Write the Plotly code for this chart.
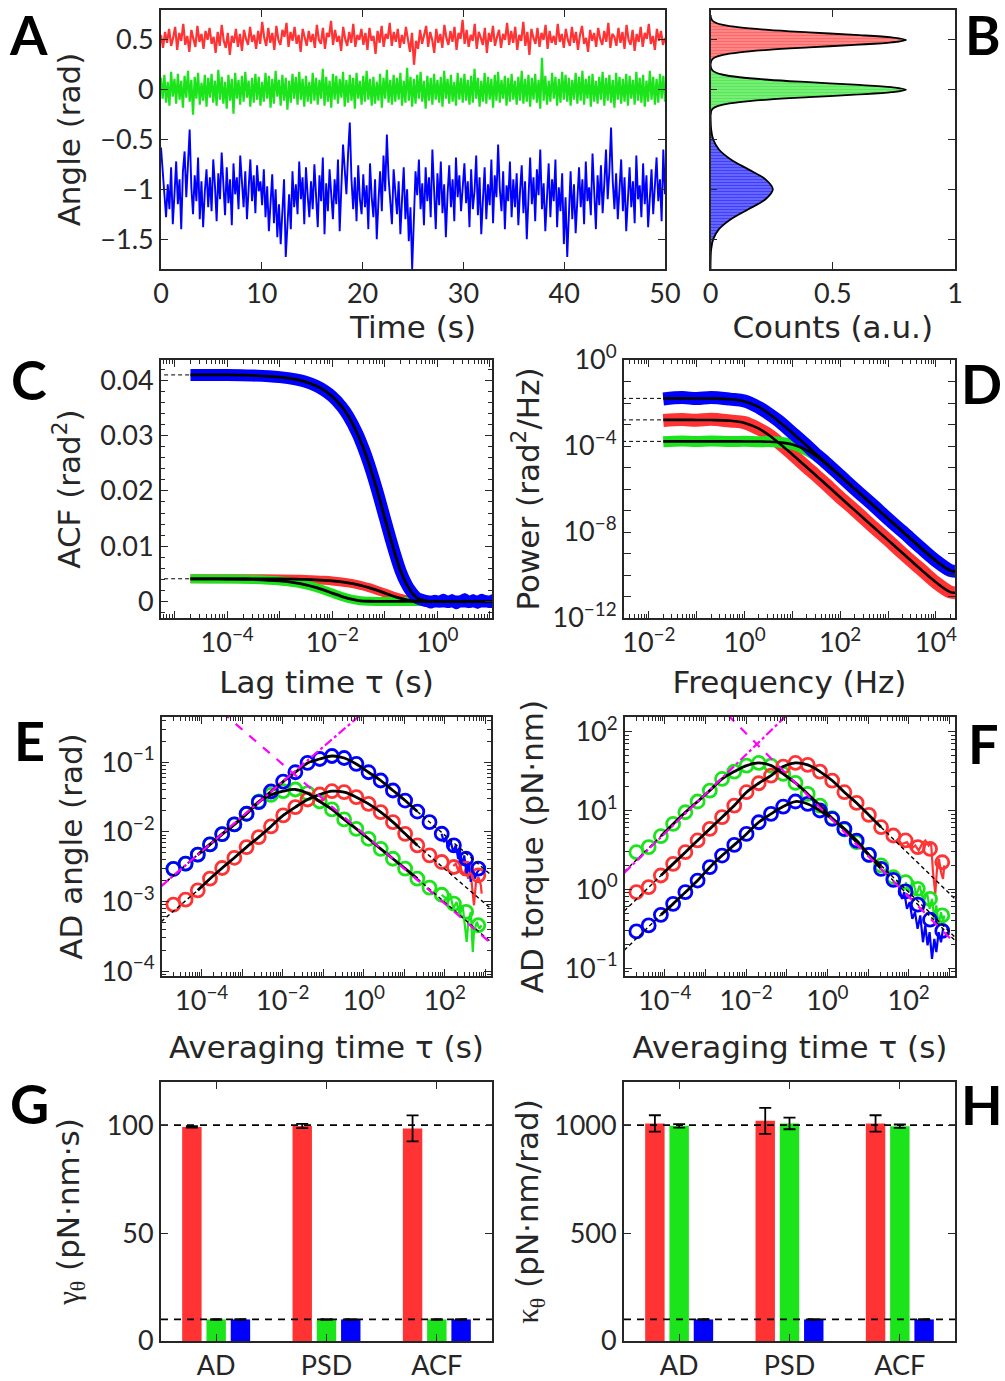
import plotly.graph_objects as go

RED = '#FF3333'
GREEN = '#1BE41B'
BLUE = '#0000FF'
MAG = '#FF00FF'
AXC = '#262626'
TICK_FONT = dict(family='Lato', size=27, color=AXC)
TITLE_FONT = dict(family='DejaVu Sans', size=31, color=AXC)
W, H = 1005, 1381

# ---------------- A: angle traces (rad), sampled evenly over 0-50 s
red_angle = [
    0.55, 0.42, 0.58, 0.47, 0.61, 0.44, 0.52, 0.63, 0.40, 0.57, 0.49, 0.66, 0.45, 0.54, 0.38, 0.60, 0.51, 0.43, 0.64, 0.48, 0.56, 0.41, 0.59, 0.50, 0.62,
    0.46, 0.53, 0.37, 0.58, 0.44, 0.65, 0.49, 0.42, 0.57, 0.35, 0.54, 0.47, 0.61, 0.43, 0.56, 0.39, 0.60, 0.51, 0.45, 0.63, 0.48, 0.55, 0.41, 0.59, 0.46,
    0.68, 0.52, 0.44, 0.62, 0.47, 0.57, 0.40, 0.64, 0.50, 0.45, 0.60, 0.53, 0.67, 0.43, 0.58, 0.49, 0.63, 0.46, 0.55, 0.38, 0.61, 0.52, 0.44, 0.59, 0.48,
    0.56, 0.42, 0.65, 0.50, 0.46, 0.62, 0.41, 0.57, 0.53, 0.69, 0.45, 0.60, 0.48, 0.54, 0.39, 0.63, 0.51, 0.44, 0.58, 0.47, 0.66, 0.43, 0.55, 0.50, 0.61,
    0.45, 0.57, 0.40, 0.62, 0.49, 0.54, 0.36, 0.59, 0.47, 0.64, 0.43, 0.56, 0.51, 0.67, 0.44, 0.58, 0.48, 0.61, 0.42, 0.55, 0.46, 0.63, 0.50, 0.38, 0.57,
    0.25, 0.49, 0.41, 0.60, 0.46, 0.55, 0.64, 0.43, 0.58, 0.50, 0.37, 0.61, 0.47, 0.56, 0.42, 0.65, 0.52, 0.45, 0.59, 0.48, 0.63, 0.40, 0.57, 0.51, 0.70,
    0.46, 0.60, 0.43, 0.55, 0.49, 0.66, 0.41, 0.58, 0.52, 0.45, 0.62, 0.37, 0.57, 0.48, 0.64, 0.44, 0.53, 0.60, 0.42, 0.56, 0.50, 0.67, 0.45, 0.59, 0.47,
    0.63, 0.40, 0.55, 0.49, 0.68, 0.44, 0.58, 0.35, 0.61, 0.52, 0.46, 0.62, 0.43, 0.57, 0.50, 0.65, 0.41, 0.59, 0.47, 0.54, 0.45, 0.66, 0.48, 0.56, 0.42,
    0.61, 0.50, 0.44, 0.63, 0.47, 0.58, 0.40, 0.55, 0.64, 0.46, 0.52, 0.38, 0.60, 0.49, 0.57, 0.43, 0.62, 0.51, 0.45, 0.59, 0.48, 0.67, 0.42, 0.56, 0.53,
    0.44, 0.62, 0.47, 0.58, 0.41, 0.65, 0.50, 0.45, 0.60, 0.39, 0.56, 0.48, 0.63, 0.43, 0.57, 0.51, 0.66, 0.46, 0.54, 0.40, 0.61, 0.49, 0.59, 0.45, 0.52,
]
green_angle = [
    0.12, -0.09, 0.15, -0.13, 0.08, -0.16, 0.18, -0.07, 0.11, -0.14, 0.16, -0.10, 0.09, -0.18, 0.14, -0.08, 0.19, -0.12, 0.10, -0.25, 0.13, -0.09, 0.17, -0.15, 0.07, -0.11, 0.15, -0.17, 0.12, -0.08,
    0.16, -0.13, 0.09, -0.16, 0.20, -0.10, 0.13, -0.14, 0.08, -0.19, 0.15, -0.11, 0.11, -0.24, 0.17, -0.09, 0.10, -0.15, 0.14, -0.12, 0.18, -0.08, 0.09, -0.17, 0.12, -0.13, 0.16, -0.10, 0.13, -0.16,
    0.08, -0.12, 0.17, -0.09, 0.14, -0.18, 0.11, -0.14, 0.19, -0.07, 0.10, -0.16, 0.15, -0.11, 0.12, -0.20, 0.09, -0.13, 0.16, -0.09, 0.13, -0.15, 0.18, -0.10, 0.11, -0.17, 0.14, -0.12, 0.08, -0.14,
    0.17, -0.11, 0.12, -0.15, 0.10, -0.09, 0.21, -0.16, 0.13, -0.12, 0.09, -0.18, 0.16, -0.10, 0.14, -0.14, 0.11, -0.08, 0.18, -0.17, 0.10, -0.13, 0.15, -0.11, 0.12, -0.19, 0.17, -0.09, 0.09, -0.15,
    0.14, -0.12, 0.19, -0.10, 0.11, -0.16, 0.13, -0.14, 0.08, -0.11, 0.16, -0.18, 0.12, -0.09, 0.20, -0.13, 0.10, -0.15, 0.15, -0.12, 0.12, -0.10, 0.17, -0.16, 0.09, -0.13, 0.22, -0.11, 0.13, -0.17,
    0.11, -0.14, 0.15, -0.09, 0.18, -0.12, 0.09, -0.19, 0.14, -0.11, 0.12, -0.15, 0.16, -0.10, 0.10, -0.13, 0.13, -0.17, 0.19, -0.09, 0.11, -0.14, 0.15, -0.12, 0.08, -0.16, 0.17, -0.10, 0.12, -0.13,
    0.16, -0.11, 0.10, -0.15, 0.14, -0.13, 0.21, -0.09, 0.12, -0.17, 0.09, -0.12, 0.17, -0.14, 0.13, -0.10, 0.11, -0.18, 0.15, -0.11, 0.18, -0.13, 0.10, -0.09, 0.14, -0.16, 0.12, -0.12, 0.16, -0.10,
    0.09, -0.15, 0.13, -0.11, 0.19, -0.14, 0.11, -0.12, 0.15, -0.17, 0.12, -0.10, 0.16, -0.13, 0.10, -0.19, 0.32, -0.11, 0.14, -0.15, 0.09, -0.12, 0.17, -0.09, 0.13, -0.16, 0.11, -0.13, 0.18, -0.10,
    0.15, -0.12, 0.12, -0.16, 0.10, -0.10, 0.17, -0.14, 0.13, -0.11, 0.19, -0.15, 0.11, -0.09, 0.14, -0.17, 0.16, -0.12, 0.09, -0.14, 0.13, -0.10, 0.18, -0.16, 0.12, -0.11, 0.15, -0.13, 0.10, -0.18,
    0.17, -0.10, 0.13, -0.14, 0.11, -0.12, 0.16, -0.16, 0.14, -0.09, 0.10, -0.15, 0.18, -0.11, 0.12, -0.13, 0.15, -0.17, 0.09, -0.12, 0.19, -0.10, 0.13, -0.15, 0.11, -0.13, 0.16, -0.09, 0.14, -0.12,
]
blue_angle = [
    -0.58, -0.85, -1.10, -1.28, -0.95, -1.20, -0.78, -1.35, -1.05, -0.72, -1.15, -0.90, -1.40, -0.82, -0.62, -1.08, -0.75, -0.40, -0.98, -1.25, -0.86, -1.12, -0.68, -1.30, -0.92, -1.38, -1.02, -0.80, -1.18, -0.88,
    -1.22, -0.70, -0.96, -1.32, -0.84, -1.10, -0.63, -1.00, -1.26, -0.78, -1.14, -0.90, -1.36, -0.74, -1.05, -0.88, -1.20, -0.66, -0.94, -1.18, -0.82, -1.30, -0.99, -0.70, -1.12, -0.86, -1.24, -0.76, -1.02, -0.92,
    -1.16, -0.80, -1.28, -0.97, -1.42, -1.08, -0.85, -1.34, -1.00, -1.48, -1.15, -1.55, -1.22, -0.90, -1.68, -1.30, -1.05, -1.40, -0.82, -1.18, -0.95, -1.25, -0.72, -1.10, -0.88, -1.35, -0.78, -1.06, -1.28, -0.92,
    -1.20, -0.75, -1.02, -1.38, -0.86, -1.12, -0.68, -1.45, -0.94, -1.22, -0.80, -1.08, -1.30, -0.90, -1.15, -0.70, -1.42, -0.98, -0.55, -0.80, -1.05, -0.64, -0.33, -0.90, -1.20, -0.88, -1.32, -0.76, -1.10, -1.25,
    -0.85, -1.18, -0.96, -1.40, -0.74, -1.08, -1.28, -0.90, -1.50, -1.12, -0.82, -1.22, -0.66, -1.02, -0.45, -0.88, -1.15, -1.35, -0.80, -1.05, -1.25, -0.92, -1.45, -1.10, -0.78, -1.30, -1.00, -1.52, -1.18, -1.80,
    -1.25, -0.82, -1.06, -0.70, -1.20, -0.94, -1.36, -0.78, -1.12, -0.88, -1.28, -0.60, -1.00, -1.40, -0.84, -1.16, -0.72, -1.24, -0.95, -1.48, -1.05, -0.76, -1.18, -0.90, -1.32, -0.68, -1.08, -0.86, -1.22, -0.98,
    -0.74, -1.14, -0.92, -1.38, -0.80, -1.20, -1.02, -0.66, -1.26, -0.88, -1.45, -1.10, -0.78, -1.30, -0.95, -1.16, -0.70, -1.34, -0.86, -1.08, -0.55, -1.00, -1.22, -0.82, -1.40, -0.96, -1.12, -0.72, -1.28, -0.90,
    -1.18, -0.84, -1.36, -1.02, -0.76, -1.24, -0.92, -1.50, -1.10, -0.68, -1.15, -0.88, -1.32, -0.80, -1.06, -0.60, -1.20, -0.94, -1.42, -1.04, -0.74, -1.28, -0.90, -1.12, -0.70, -1.38, -0.98, -1.22, -0.84, -1.55,
    -1.08, -1.68, -1.20, -0.82, -1.30, -0.95, -1.44, -1.05, -0.78, -1.18, -0.90, -1.35, -0.72, -1.12, -0.98, -1.26, -0.64, -1.02, -1.40, -0.86, -1.16, -0.76, -1.24, -0.94, -0.60, -1.10, -0.82, -0.38, -0.92, -1.20,
    -0.84, -1.30, -1.00, -0.70, -1.22, -0.88, -1.42, -1.06, -0.78, -1.18, -0.92, -1.34, -0.66, -1.10, -0.96, -1.28, -0.74, -1.15, -0.86, -1.38, -1.02, -0.80, -1.25, -0.94, -0.68, -1.12, -0.90, -1.32, -0.60, -1.05,
]

# ---------------- B: histograms (counts a.u. vs angle)
hist_angle_red = [0.25, 0.275, 0.30, 0.325, 0.35, 0.375, 0.40, 0.425, 0.45, 0.475, 0.50,
                  0.525, 0.55, 0.575, 0.60, 0.625, 0.65, 0.675, 0.70, 0.725, 0.75]
hist_red = [0.0003, 0.0016, 0.006, 0.019, 0.051, 0.119, 0.236, 0.403, 0.590, 0.741, 0.800,
            0.741, 0.590, 0.403, 0.236, 0.119, 0.051, 0.019, 0.006, 0.0016, 0.0003]
hist_angle_green = [-0.25, -0.225, -0.20, -0.175, -0.15, -0.125, -0.10, -0.075, -0.05, -0.025, 0.0,
                    0.025, 0.05, 0.075, 0.10, 0.125, 0.15, 0.175, 0.20, 0.225, 0.25]
hist_green = [0.0003, 0.0016, 0.006, 0.019, 0.051, 0.119, 0.236, 0.403, 0.590, 0.741, 0.800,
              0.741, 0.590, 0.403, 0.236, 0.119, 0.051, 0.019, 0.006, 0.0016, 0.0003]
hist_angle_blue = [-1.8, -1.7, -1.6, -1.5, -1.4, -1.3, -1.2, -1.1, -1.0,
                   -0.9, -0.8, -0.7, -0.6, -0.5, -0.4, -0.3, -0.2]
hist_blue = [0.0001, 0.0006, 0.0028, 0.0112, 0.0345, 0.083, 0.155, 0.225, 0.255,
             0.225, 0.155, 0.083, 0.0345, 0.0112, 0.0028, 0.0006, 0.0001]

# ---------------- C: autocorrelation
acf_lag = [2e-5, 5e-5, 1e-4, 3e-4, 1e-3, 2e-3, 3e-3, 5e-3, 7e-3, 0.01, 0.015, 0.02, 0.03, 0.04, 0.05,
           0.07, 0.1, 0.13, 0.16, 0.2, 0.25, 0.3, 0.4, 0.5, 0.7, 1.0, 2.0, 5.0, 11.0]
acf_blue = [0.0410, 0.0410, 0.0410, 0.0409, 0.0406, 0.0402, 0.0398, 0.0390, 0.0382, 0.0371, 0.0353, 0.0336,
            0.0304, 0.0275, 0.0249, 0.0204, 0.0151, 0.0112, 0.0083, 0.0055, 0.0034, 0.0021, 0.0007, 0.0003,
            0.0, 0.0, 0.0, 0.0, 0.0]
acf_red = [0.0041, 0.0041, 0.0041, 0.0041, 0.00406, 0.00402, 0.00398, 0.0039, 0.00382, 0.00371, 0.00353,
           0.00336, 0.00304, 0.00275, 0.00249, 0.00204, 0.00151, 0.00112, 0.00083, 0.00055, 0.00034, 0.00021,
           0.00007, 0.00003, 0.0, 0.0, 0.0, 0.0, 0.0]
acf_green = [0.00409, 0.00408, 0.00406, 0.00398, 0.00371, 0.00336, 0.00304, 0.00249, 0.00204, 0.00151,
             0.00091, 0.00055, 0.00021, 0.00007, 0.00003, 0.0, 0.0, 0.0, 0.0, 0.0, 0.0, 0.0, 0.0, 0.0,
             0.0, 0.0, 0.0, 0.0, 0.0]
acf_tail_lag = [0.6, 0.75, 0.9, 1.1, 1.3, 1.6, 1.9, 2.3, 2.8, 3.3, 4.0, 4.8, 5.8, 7.0, 8.4, 10.0, 11.5]
acf_tail_blue = [0.0001, -0.0003, 0.0002, -0.0001, 0.0004, -0.0002, 0.0003, -0.0004, 0.0001, 0.0005,
                 -0.0002, 0.0003, -0.0003, 0.0004, 0.0001, -0.0002, 0.0003]
acf_plateau = [0.041, 0.0041]

# ---------------- D: power spectral density
psd_freq = [0.02, 0.05, 0.1, 0.2, 0.5, 1, 2, 3, 5, 10, 20, 30, 50, 100, 200, 500, 1000, 2000, 5000,
            10000, 20000, 25000]
psd_fit_blue = [1.64e-2, 1.64e-2, 1.63e-2, 1.61e-2, 1.49e-2, 1.18e-2, 6.4e-3, 3.6e-3, 1.5e-3, 4.0e-4,
                1.03e-4, 4.6e-5, 1.66e-5, 4.1e-6, 1.04e-6, 1.66e-7, 4.2e-8, 1.05e-8, 1.7e-9, 4.6e-10,
                1.6e-10, 1.5e-10]
psd_fit_red = [1.64e-3, 1.64e-3, 1.63e-3, 1.61e-3, 1.49e-3, 1.18e-3, 6.4e-4, 3.6e-4, 1.5e-4, 4.0e-5,
               1.03e-5, 4.6e-6, 1.66e-6, 4.1e-7, 1.04e-7, 1.66e-8, 4.2e-9, 1.05e-9, 1.7e-10, 4.6e-11,
               1.6e-11, 1.5e-11]
psd_fit_green = [1.64e-4, 1.64e-4, 1.64e-4, 1.64e-4, 1.64e-4, 1.63e-4, 1.61e-4, 1.58e-4, 1.49e-4, 1.18e-4,
                 6.4e-5, 3.6e-5, 1.51e-5, 4.0e-6, 1.03e-6, 1.66e-7, 4.2e-8, 1.05e-8, 1.7e-9, 4.6e-10,
                 1.6e-10, 1.5e-10]
psd_blue = [1.55e-2, 1.78e-2, 1.60e-2, 1.80e-2, 1.52e-2, 1.25e-2, 6.2e-3, 3.5e-3, 1.55e-3, 4.1e-4,
            1.05e-4, 4.5e-5, 1.7e-5, 4.2e-6, 1.02e-6, 1.68e-7, 4.1e-8, 1.06e-8, 1.72e-9, 4.6e-10,
            1.62e-10, 1.5e-10]
psd_red = [1.55e-3, 1.70e-3, 1.58e-3, 1.75e-3, 1.45e-3, 1.22e-3, 6.2e-4, 3.7e-4, 1.55e-4, 4.1e-5,
           1.02e-5, 4.7e-6, 1.68e-6, 4.0e-7, 1.05e-7, 1.64e-8, 4.25e-9, 1.03e-9, 1.72e-10, 4.5e-11,
           1.62e-11, 1.5e-11]
psd_green = [1.58e-4, 1.70e-4, 1.60e-4, 1.72e-4, 1.62e-4, 1.66e-4, 1.58e-4, 1.60e-4, 1.52e-4, 1.20e-4,
             6.3e-5, 3.7e-5, 1.53e-5, 4.1e-6, 1.02e-6, 1.68e-7, 4.1e-8, 1.05e-8, 1.7e-9, 4.6e-10,
             1.62e-10, 1.5e-10]
psd_plateau = [1.64e-2, 1.64e-3, 1.64e-4]

# ---------------- E/F: Allan deviation at octave averaging times
ad_tau = [2e-5, 4e-5, 8e-5, 1.6e-4, 3.2e-4, 6.4e-4, 1.28e-3, 2.56e-3, 5.12e-3, 1.024e-2, 2.048e-2,
          4.096e-2, 8.192e-2, 0.1638, 0.3277, 0.6554, 1.311, 2.621, 5.243, 10.49, 20.97, 41.94, 83.89,
          167.8, 335.5, 671.1]
ad_angle_blue = [2.95e-3, 3.49e-3, 4.70e-3, 6.61e-3, 9.29e-3, 1.28e-2, 1.82e-2, 2.67e-2, 3.80e-2, 5.28e-2,
                 7.19e-2, 9.77e-2, 0.1114, 0.1230, 0.1151, 9.46e-2, 7.19e-2, 5.47e-2, 3.93e-2, 2.82e-2,
                 1.96e-2, 1.38e-2, 9.40e-3, 6.40e-3, 4.11e-3, 2.96e-3]
ad_angle_red = [9.02e-4, 1.064e-3, 1.449e-3, 2.128e-3, 3.027e-3, 4.246e-3, 6.053e-3, 8.414e-3, 1.197e-2,
                1.722e-2, 2.265e-2, 2.917e-2, 3.443e-2, 3.837e-2, 3.715e-2, 3.148e-2, 2.523e-2, 1.919e-2,
                1.380e-2, 9.376e-3, 6.40e-3, 4.60e-3, 3.69e-3, 3.13e-3, 2.96e-3, 2.38e-3]
ad_angle_green = [2.95e-3, 3.49e-3, 4.70e-3, 6.61e-3, 9.29e-3, 1.28e-2, 1.82e-2, 2.73e-2, 3.40e-2, 3.84e-2,
                  4.06e-2, 3.60e-2, 2.73e-2, 2.10e-2, 1.51e-2, 1.107e-2, 7.96e-3, 5.71e-3, 4.11e-3, 2.96e-3,
                  2.13e-3, 1.58e-3, 1.25e-3, 9.31e-4, 7.08e-4, 4.56e-4]
ad_angle_tail_tau_blue = [83.2, 95.5, 107, 120, 138, 162, 186, 214, 234, 269, 302, 347, 389, 437, 490, 550, 631, 741]
ad_angle_tail_blue = [9.40e-3, 7.13e-3, 8.41e-3, 5.71e-3, 7.53e-3, 5.13e-3, 6.40e-3, 4.11e-3, 5.71e-3, 3.30e-3,
                      4.60e-3, 2.38e-3, 3.69e-3, 1.91e-3, 2.96e-3, 2.13e-3, 2.65e-3, 2.96e-3]
ad_angle_tail_tau_red = [162, 186, 214, 245, 282, 331, 380, 437, 490, 525, 589, 676, 776, 813]
ad_angle_tail_red = [3.23e-3, 3.49e-3, 2.80e-3, 3.13e-3, 2.38e-3, 2.96e-3, 2.13e-3, 2.51e-3, 1.30e-3, 8.83e-4,
                     1.91e-3, 2.25e-3, 1.71e-3, 1.30e-3]
ad_angle_tail_tau_green = [83.2, 110, 135, 162, 195, 234, 275, 316, 347, 380, 437, 490, 525, 617, 708, 813]
ad_angle_tail_green = [1.25e-3, 1.10e-3, 1.30e-3, 7.91e-4, 9.86e-4, 6.35e-4, 8.83e-4, 3.66e-4, 2.63e-4,
                       5.09e-4, 7.08e-4, 1.89e-4, 3.66e-4, 5.09e-4, 4.08e-4, 4.56e-4]
# asymptote extensions (dashed black) and slope guides (magenta)
ad_ext_tau = [1e-5, 8e-5, 20.97, 1585]
ad_angle_ext_blue = [1.67e-3, 4.70e-3, 1.96e-2, 2.25e-3]
ad_angle_ext_red = [5.13e-4, 1.449e-3, 6.40e-3, 7.35e-4]
ad_angle_ext_green = [1.67e-3, 4.70e-3, 2.13e-3, 2.44e-4]
ad_angle_guide_up = ([1e-5, 1.0], [1.66e-3, 0.526])
ad_angle_guide_down = ([3.16e-4, 3162], [0.525, 1.66e-4])

ad_torque_blue = [0.292, 0.348, 0.474, 0.653, 0.918, 1.291, 1.905, 2.679, 3.656, 5.035, 7.079, 9.036, 11.19,
                  12.97, 12.08, 9.977, 7.798, 5.834, 4.150, 2.729, 1.816, 1.318, 0.940, 0.640, 0.411, 0.296]
ad_torque_red = [0.918, 1.064, 1.496, 2.099, 2.951, 4.159, 5.834, 8.204, 11.53, 17.02, 22.13, 27.67, 35.97,
                 39.99, 37.76, 31.12, 23.93, 17.02, 12.45, 8.770, 6.124, 4.808, 4.159, 3.420, 3.251, 2.203]
ad_torque_green = [2.951, 3.420, 4.721, 6.745, 9.484, 12.97, 17.86, 25.06, 31.12, 37.07, 39.99, 37.07, 29.04,
                   22.34, 16.18, 11.53, 7.962, 5.728, 3.954, 2.729, 2.004, 1.422, 1.230, 1.012, 0.755, 0.466]
ad_torque_tail_tau_red = [51.5, 68.4, 90.8, 114, 146, 176, 213, 256, 310, 355, 397, 452, 498, 557, 625, 700, 753]
ad_torque_tail_red = [4.355, 3.758, 3.954, 3.251, 3.589, 3.105, 3.758, 4.159, 3.589, 3.954, 1.644, 0.875,
                      1.816, 2.427, 1.644, 1.355, 2.004]
ad_torque_tail_tau_green = [84.1, 106, 128, 154, 186, 233, 282, 327, 375, 428, 479, 546, 625, 700, 753]
ad_torque_tail_green = [1.230, 0.918, 1.291, 0.834, 1.117, 0.685, 0.918, 0.565, 0.755, 0.422, 0.624, 0.348,
                        0.513, 0.383, 0.466]
ad_torque_tail_tau_blue = [56.5, 68.4, 78.0, 90.8, 106, 123, 143, 166, 193, 225, 256, 292, 327, 375, 428,
                           479, 546, 625, 700]
ad_torque_tail_blue = [1.117, 0.755, 0.918, 0.565, 0.685, 0.422, 0.513, 0.315, 0.466, 0.213, 0.348, 0.194,
                       0.286, 0.131, 0.235, 0.160, 0.286, 0.213, 0.315]
ad_torque_ext_blue = [0.168, 0.474, 1.816, 0.209]
ad_torque_ext_red = [0.528, 1.496, 6.124, 0.705]
ad_torque_ext_green = [1.667, 4.721, 2.004, 0.231]
ad_torque_guide_up = ([1e-5, 1.0], [1.614, 510.5])
ad_torque_guide_down = ([3.55e-3, 1413], [162.2, 0.204])

# ---------------- G/H: fitted parameters
methods = ['AD', 'PSD', 'ACF']
gamma_red = [99.2, 99.6, 98.5]
gamma_red_err = [0.3, 1.0, 6.0]
gamma_green = [10.0, 10.0, 10.0]
gamma_green_err = [0.15, 0.15, 0.15]
gamma_blue = [10.0, 10.0, 10.0]
gamma_blue_err = [0.15, 0.15, 0.15]
gamma_ref = [100, 10]
kappa_red = [1008, 1020, 1008]
kappa_red_err = [38, 60, 38]
kappa_green = [997, 1008, 995]
kappa_green_err = [8, 27, 8]
kappa_blue = [100, 100, 100]
kappa_blue_err = [1.5, 1.5, 1.5]
kappa_ref = [1000, 100]


def time_axis(values):
    n = len(values)
    return [50.0 * i / (n - 1) for i in range(n)]


def xd(a, b):
    return [a / W, b / W]


def yd(top, bottom):
    return [1 - bottom / H, 1 - top / H]


def pow_label(e):
    return '10<sup>' + ('\u2212' + str(-e) if e < 0 else str(e)) + '</sup>'


def axis(domain, anchor, rng, title=None, standoff=None, **kw):
    d = dict(domain=domain, anchor=anchor, range=rng, automargin=False, showline=True, linecolor=AXC,
             linewidth=1.8, mirror='allticks', ticks='inside', ticklen=7, tickwidth=1.4, tickcolor=AXC,
             showgrid=False, zeroline=False, tickfont=TICK_FONT)
    if title:
        d['title'] = dict(text=title, font=TITLE_FONT, standoff=standoff)
    d.update(kw)
    return d


def log_ticks(lo, hi, labelled):
    vals = [10.0 ** e for e in range(lo, hi + 1)]
    text = [pow_label(e) if e in labelled else '' for e in range(lo, hi + 1)]
    return dict(type='log', tickmode='array', tickvals=vals, ticktext=text)


MINOR_LOG = dict(ticks='inside', ticklen=4, tickwidth=1, tickcolor=AXC, dtick='D1', showgrid=False)

fig = go.Figure()


def line(x, y, ax, color, width, dash=None, shape='linear', mode='lines', **kw):
    fig.add_trace(go.Scatter(x=x, y=y, mode=mode, xaxis='x' + ax, yaxis='y' + ax, hoverinfo='skip',
                             line=dict(color=color, width=width, dash=dash, shape=shape), **kw))


# A
line(time_axis(red_angle), red_angle, '', RED, 2.2)
line(time_axis(green_angle), green_angle, '', GREEN, 2.2)
line(time_axis(blue_angle), blue_angle, '', BLUE, 1.9)

# B
for ang, cnt, col, light in [(hist_angle_red, hist_red, RED, '#FF9A9A'),
                             (hist_angle_green, hist_green, GREEN, '#8FF08F'),
                             (hist_angle_blue, hist_blue, BLUE, '#7F7FFF')]:
    fig.add_trace(go.Scatter(x=cnt, y=ang, mode='lines', xaxis='x2', yaxis='y2', fill='tozerox',
                             fillcolor=light,
                             fillpattern=dict(shape='-', fgcolor=col, bgcolor=light, size=3, solidity=0.6),
                             line=dict(color='black', width=1.8, shape='spline'), hoverinfo='skip'))

# C
for val in acf_plateau:
    line([1e-6, acf_lag[0]], [val, val], '3', 'black', 1, dash='4px,3px')
line(acf_lag, acf_red, '3', RED, 9, shape='spline')
line(acf_lag, acf_green, '3', GREEN, 9, shape='spline')
line(acf_lag, acf_blue, '3', BLUE, 12, shape='spline')
line(acf_tail_lag, acf_tail_blue, '3', BLUE, 9, mode='lines+markers', marker=dict(color=BLUE, size=11))
for vals in (acf_red, acf_green, acf_blue):
    line(acf_lag, vals, '3', 'black', 2.8, shape='spline')

# D
for val in psd_plateau:
    line([1e-3, psd_freq[0]], [val, val], '4', 'black', 1, dash='4px,3px')
line(psd_freq, psd_red, '4', RED, 13, shape='spline')
line(psd_freq, psd_green, '4', GREEN, 11, shape='spline')
line(psd_freq, psd_blue, '4', BLUE, 13, shape='spline')
for vals in (psd_fit_red, psd_fit_green, psd_fit_blue):
    line(psd_freq, vals, '4', 'black', 2.6, shape='spline')


# E / F
def ad_panel(ax, circles, tails, exts, guide_up, guide_down):
    for (tau_t, val_t, col) in tails:
        line(tau_t, val_t, ax, col, 2.2)
    for vals, col in circles:
        fig.add_trace(go.Scatter(x=ad_tau, y=vals, mode='markers', xaxis='x' + ax, yaxis='y' + ax,
                                 hoverinfo='skip',
                                 marker=dict(symbol='circle-open', size=13, color=col,
                                             line=dict(width=2.8, color=col))))
    for vals in exts:
        line(ad_ext_tau[:2], vals[:2], ax, 'black', 1.4, dash='4px,3px')
        line(ad_ext_tau[2:], vals[2:], ax, 'black', 1.4, dash='4px,3px')
    for vals, col in circles:
        line(ad_tau[2:21], vals[2:21], ax, 'black', 2.8, shape='spline')
    line(guide_up[0], guide_up[1], ax, MAG, 2.2, dash='dashdot')
    line(guide_down[0], guide_down[1], ax, MAG, 2.2, dash='dash')


ad_panel('5',
         [(ad_angle_green, GREEN), (ad_angle_red, RED), (ad_angle_blue, BLUE)],
         [(ad_angle_tail_tau_green, ad_angle_tail_green, GREEN),
          (ad_angle_tail_tau_red, ad_angle_tail_red, RED),
          (ad_angle_tail_tau_blue, ad_angle_tail_blue, BLUE)],
         [ad_angle_ext_blue, ad_angle_ext_red, ad_angle_ext_green],
         ad_angle_guide_up, ad_angle_guide_down)

ad_panel('6',
         [(ad_torque_green, GREEN), (ad_torque_red, RED), (ad_torque_blue, BLUE)],
         [(ad_torque_tail_tau_green, ad_torque_tail_green, GREEN),
          (ad_torque_tail_tau_red, ad_torque_tail_red, RED),
          (ad_torque_tail_tau_blue, ad_torque_tail_blue, BLUE)],
         [ad_torque_ext_blue, ad_torque_ext_red, ad_torque_ext_green],
         ad_torque_guide_up, ad_torque_guide_down)

# G / H
xpos = [1, 2, 3]
for ax, series, refs in [('7', [(gamma_red, gamma_red_err, RED), (gamma_green, gamma_green_err, GREEN),
                                (gamma_blue, gamma_blue_err, BLUE)], gamma_ref),
                         ('8', [(kappa_red, kappa_red_err, RED), (kappa_green, kappa_green_err, GREEN),
                                (kappa_blue, kappa_blue_err, BLUE)], kappa_ref)]:
    for vals, err, col in series:
        fig.add_trace(go.Bar(x=xpos, y=vals, xaxis='x' + ax, yaxis='y' + ax, marker_color=col,
                             marker_line_width=0, hoverinfo='skip',
                             error_y=dict(type='data', array=err, color='black', thickness=1.8, width=6)))
    for r in refs:
        line([0.5, 3.5], [r, r], ax, 'black', 1.8, dash='7px,6px')

SERIF = "<span style='font-family:Liberation Serif'>"
layout = dict(
    width=W, height=H, margin=dict(l=0, r=0, t=0, b=0, pad=0, autoexpand=False),
    paper_bgcolor='white', plot_bgcolor='white',
    showlegend=False, barmode='group', bargap=0.34, bargroupgap=0.2,
    font=dict(family='Lato', color=AXC),
    xaxis=axis(xd(161, 665), 'y', [0, 50], 'Time (s)', 0, tickvals=[0, 10, 20, 30, 40, 50]),
    yaxis=axis(yd(10, 269), 'x', [-1.8, 0.8], 'Angle (rad)', 10, tickvals=[-1.5, -1, -0.5, 0, 0.5]),
    xaxis2=axis(xd(710.5, 955), 'y2', [0, 1], 'Counts (a.u.)', 0, tickvals=[0, 0.5, 1]),
    yaxis2=axis(yd(10, 269), 'x2', [-1.8, 0.8], tickvals=[-1.5, -1, -0.5, 0, 0.5], showticklabels=False),
    xaxis3=axis(xd(161, 492), 'y3', [-5.26, 1.04], 'Lag time τ (s)', 14, minor=MINOR_LOG,
                **log_ticks(-5, 1, (-4, -2, 0))),
    yaxis3=axis(yd(360, 618), 'x3', [-0.003, 0.0437], 'ACF (rad<sup>2</sup>)', 10,
                tickvals=[0, 0.01, 0.02, 0.03, 0.04],
                minor=dict(ticks='inside', ticklen=4, tickwidth=1, tickcolor=AXC, dtick=0.002)),
    xaxis4=axis(xd(624, 955), 'y4', [-2.52, 4.40], 'Frequency (Hz)', 14, minor=MINOR_LOG,
                **log_ticks(-2, 4, (-2, 0, 2, 4))),
    yaxis4=axis(yd(360, 618), 'x4', [-12, 0], 'Power (rad<sup>2</sup>/Hz)', 4,
                **log_ticks(-12, 0, (0, -4, -8, -12))),
    xaxis5=axis(xd(162, 491), 'y5', [-4.98, 3.14], 'Averaging time τ (s)', 21, minor=MINOR_LOG,
                **log_ticks(-5, 3, (-4, -2, 0, 2))),
    yaxis5=axis(yd(717, 976), 'x5', [-4.07, -0.35], 'AD angle (rad)', 10, minor=MINOR_LOG,
                **log_ticks(-4, -1, (-4, -3, -2, -1))),
    xaxis6=axis(xd(625, 955), 'y6', [-4.98, 3.14], 'Averaging time τ (s)', 21, minor=MINOR_LOG,
                **log_ticks(-5, 3, (-4, -2, 0, 2))),
    yaxis6=axis(yd(717, 976), 'x6', [-1.10, 2.185], 'AD torque (pN·nm)', 12, minor=MINOR_LOG,
                **log_ticks(-1, 2, (-1, 0, 1, 2))),
    xaxis7=axis(xd(161, 492), 'y7', [0.5, 3.5], tickvals=xpos, ticktext=methods),
    yaxis7=axis(yd(1082, 1341), 'x7', [0, 120], SERIF + 'γ<sub>θ</sub></span> (pN·nm·s)', 18,
                tickvals=[0, 50, 100]),
    xaxis8=axis(xd(624, 955), 'y8', [0.5, 3.5], tickvals=xpos, ticktext=methods),
    yaxis8=axis(yd(1082, 1341), 'x8', [0, 1200], SERIF + 'κ<sub>θ</sub></span> (pN·nm/rad)', 6,
                tickvals=[0, 500, 1000]),
)
fig.update_layout(**layout)

letters = [('A', 28, 34), ('B', 983, 34), ('C', 29, 379), ('D', 981, 383),
           ('E', 29, 741), ('F', 983, 743), ('G', 29, 1103), ('H', 982, 1104)]
for txt, px, py in letters:
    fig.add_annotation(x=px / W, y=1 - py / H, xref='paper', yref='paper', text='<b>' + txt + '</b>',
                       showarrow=False, xanchor='center', yanchor='middle',
                       font=dict(family='Lato', size=54, color='black', weight=900))

fig.write_html('out.html', config={'displayModeBar': False},
               post_script="document.body.style.margin='0px';")
